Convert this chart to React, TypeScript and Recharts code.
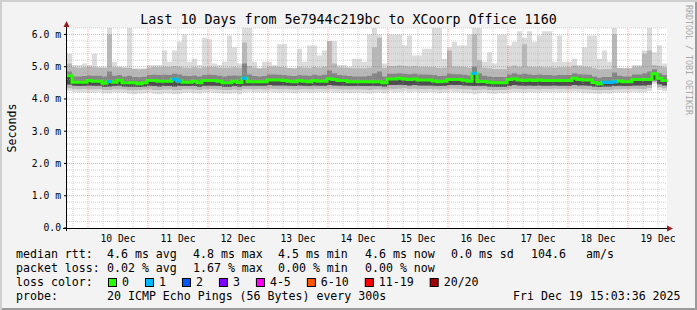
import {
  ComposedChart,
  Area,
  Line,
  XAxis,
  YAxis,
  ReferenceLine,
  CartesianGrid,
} from "recharts";

const W = 697;
const H = 310;
const MONO = '"DejaVu Sans Mono", monospace';

// samples: hours after Dec 9 00:00, one consolidated sample every 2 h
const START_HOUR = 15.6;
const STEP_HOURS = 2;
const END_HOUR = 255.6;

// median rtt (ms)
const median = [
  4.72, 4.52, 4.52, 4.52, 4.57, 4.55, 4.55, 4.49, 4.54, 4.52,
  4.58, 4.5, 4.5, 4.5, 4.47, 4.5, 4.57, 4.57, 4.55, 4.55,
  4.55, 4.61, 4.56, 4.52, 4.52, 4.55, 4.5, 4.57, 4.57, 4.57,
  4.55, 4.5, 4.5, 4.55, 4.51, 4.64, 4.53, 4.53, 4.53, 4.53,
  4.59, 4.59, 4.59, 4.57, 4.55, 4.53, 4.57, 4.55, 4.53, 4.57,
  4.55, 4.55, 4.63, 4.6, 4.57, 4.57, 4.53, 4.53, 4.53, 4.53,
  4.53, 4.53, 4.53, 4.5, 4.62, 4.62, 4.64, 4.62, 4.6, 4.62,
  4.59, 4.59, 4.59, 4.56, 4.53, 4.55, 4.6, 4.6, 4.6, 4.58,
  4.55, 4.8, 4.54, 4.54, 4.52, 4.5, 4.5, 4.5, 4.6, 4.63,
  4.59, 4.57, 4.59, 4.57, 4.59, 4.57, 4.57, 4.57, 4.57, 4.57,
  4.57, 4.64, 4.6, 4.59, 4.59, 4.51, 4.47, 4.52, 4.51, 4.53,
  4.56, 4.53, 4.53, 4.6, 4.6, 4.6, 4.6, 4.78, 4.64, 4.57,
];

// samples where 1 of 20 pings was lost
const lossOne = [8, 21, 22, 35, 81, 107, 108, 109];

// smoke: sorted ping rtts, lowest .. highest (ms)
const smokeMin = [
  4.25, 4.22, 4.2, 4.21, 4.19, 4.2, 4.22, 4.18, 4.17, 4.2,
  4.2, 4.19, 4.16, 4.15, 4.17, 4.18, 4.2, 4.16, 4.15, 4.18,
  4.17, 4.15, 4.16, 4.19, 4.2, 4.18, 4.17, 4.2, 4.21, 4.19,
  4.18, 4.17, 4.16, 4.18, 4.15, 4.2, 4.22, 4.2, 4.21, 4.2,
  4.22, 4.2, 4.19, 4.21, 4.2, 4.18, 4.2, 4.21, 4.19, 4.2,
  4.21, 4.2, 4.22, 4.2, 4.19, 4.2, 4.18, 4.19, 4.2, 4.18,
  4.17, 4.19, 4.2, 4.18, 4.22, 4.2, 4.21, 4.23, 4.2, 4.22,
  4.2, 4.19, 4.21, 4.2, 4.18, 4.2, 4.22, 4.21, 4.2, 4.19,
  4.18, 4.15, 4.18, 4.2, 4.17, 4.16, 4.18, 4.17, 4.2, 4.21,
  4.2, 4.19, 4.21, 4.2, 4.19, 4.21, 4.2, 4.22, 4.2, 4.21,
  4.2, 4.22, 4.2, 4.19, 4.18, 4.17, 4.16, 4.18, 4.17, 4.2,
  4.19, 4.2, 4.21, 4.22, 4.2, 4.21, 4.25, 4.47, 4.28, 4.24,
];
const smokeQ1 = [
  4.33, 4.31, 4.3, 4.31, 4.3, 4.3, 4.31, 4.28, 4.28, 4.3,
  4.3, 4.29, 4.27, 4.27, 4.28, 4.29, 4.3, 4.28, 4.28, 4.29,
  4.29, 4.27, 4.28, 4.3, 4.3, 4.29, 4.28, 4.3, 4.31, 4.3,
  4.29, 4.28, 4.28, 4.29, 4.27, 4.31, 4.31, 4.3, 4.31, 4.3,
  4.32, 4.31, 4.3, 4.31, 4.3, 4.29, 4.3, 4.31, 4.3, 4.31,
  4.31, 4.3, 4.32, 4.31, 4.3, 4.3, 4.29, 4.3, 4.3, 4.29,
  4.28, 4.3, 4.3, 4.29, 4.32, 4.31, 4.32, 4.33, 4.31, 4.32,
  4.31, 4.3, 4.31, 4.3, 4.29, 4.3, 4.32, 4.32, 4.31, 4.3,
  4.3, 4.28, 4.29, 4.3, 4.28, 4.27, 4.28, 4.28, 4.3, 4.32,
  4.31, 4.3, 4.31, 4.31, 4.3, 4.31, 4.31, 4.32, 4.31, 4.31,
  4.31, 4.32, 4.31, 4.3, 4.29, 4.28, 4.27, 4.28, 4.28, 4.3,
  4.3, 4.31, 4.31, 4.32, 4.31, 4.31, 4.34, 4.52, 4.36, 4.33,
];
const smokeQ2 = [
  4.45, 4.41, 4.4, 4.41, 4.42, 4.41, 4.41, 4.38, 4.39, 4.4,
  4.41, 4.39, 4.38, 4.38, 4.37, 4.39, 4.41, 4.4, 4.39, 4.4,
  4.4, 4.39, 4.4, 4.4, 4.4, 4.4, 4.38, 4.41, 4.41, 4.41,
  4.4, 4.38, 4.38, 4.4, 4.38, 4.41, 4.41, 4.41, 4.41, 4.41,
  4.43, 4.42, 4.42, 4.42, 4.41, 4.4, 4.42, 4.41, 4.4, 4.42,
  4.41, 4.41, 4.43, 4.42, 4.41, 4.41, 4.4, 4.4, 4.4, 4.4,
  4.4, 4.4, 4.4, 4.39, 4.43, 4.43, 4.44, 4.43, 4.42, 4.43,
  4.42, 4.42, 4.42, 4.41, 4.4, 4.41, 4.43, 4.43, 4.43, 4.42,
  4.41, 4.4, 4.4, 4.41, 4.39, 4.38, 4.38, 4.38, 4.41, 4.43,
  4.42, 4.41, 4.42, 4.41, 4.42, 4.41, 4.41, 4.42, 4.41, 4.41,
  4.41, 4.43, 4.42, 4.42, 4.41, 4.39, 4.37, 4.39, 4.39, 4.4,
  4.41, 4.4, 4.4, 4.42, 4.42, 4.42, 4.44, 4.58, 4.46, 4.42,
];
const smokeQ3 = [
  4.85, 4.7, 4.7, 4.71, 4.73, 4.72, 4.72, 4.7, 4.85, 4.72,
  4.74, 4.7, 4.72, 4.68, 4.67, 4.69, 4.74, 4.75, 4.74, 4.75,
  4.74, 4.78, 4.76, 4.72, 4.71, 4.73, 4.7, 4.74, 4.75, 4.74,
  4.72, 4.7, 4.72, 4.73, 4.72, 5.1, 4.76, 4.71, 4.7, 4.71,
  4.76, 4.76, 4.75, 4.74, 4.72, 4.71, 4.74, 4.73, 4.72, 4.75,
  4.73, 4.75, 4.88, 4.8, 4.74, 4.73, 4.71, 4.7, 4.7, 4.7,
  4.72, 4.8, 4.85, 4.7, 4.78, 4.78, 4.8, 4.78, 4.77, 4.78,
  4.76, 4.76, 4.75, 4.74, 4.71, 4.72, 4.78, 4.77, 4.77, 4.75,
  4.73, 5.0, 4.8, 4.72, 4.7, 4.68, 4.68, 4.68, 4.76, 4.8,
  4.76, 4.78, 4.76, 4.74, 4.76, 4.74, 4.74, 4.73, 4.74, 4.74,
  4.74, 4.8, 4.77, 4.76, 4.75, 4.7, 4.66, 4.68, 4.68, 4.82,
  4.72, 4.7, 4.7, 4.76, 4.76, 4.8, 4.85, 4.92, 4.8, 4.74,
];
const smokeQ4 = [
  5.1, 4.98, 4.97, 4.98, 5.0, 4.98, 4.97, 4.96, 6.0, 4.98,
  4.98, 4.96, 4.96, 4.93, 4.92, 4.93, 4.97, 4.99, 4.98, 5.0,
  4.99, 5.02, 5.0, 4.97, 4.96, 4.98, 4.95, 4.98, 5.0, 4.99,
  4.97, 4.96, 4.97, 4.98, 4.96, 5.75, 5.02, 4.97, 4.95, 4.96,
  5.0, 5.0, 4.99, 4.98, 4.96, 4.95, 4.98, 4.97, 4.96, 4.99,
  4.97, 5.0, 5.8, 5.1, 4.98, 4.97, 4.96, 4.95, 4.95, 4.95,
  4.97, 5.6, 5.9, 4.96, 5.02, 5.02, 5.04, 5.02, 5.01, 5.02,
  5.0, 5.0, 4.99, 4.98, 4.96, 4.97, 5.5, 5.01, 5.01, 4.99,
  4.97, 6.0, 5.2, 4.97, 4.95, 4.93, 4.93, 4.93, 5.0, 5.04,
  5.0, 5.7, 5.0, 4.99, 5.0, 4.98, 4.98, 4.97, 4.98, 4.98,
  4.98, 5.04, 5.01, 5.0, 4.99, 4.95, 4.92, 4.93, 4.93, 6.0,
  4.96, 4.95, 4.95, 5.0, 5.0, 5.4, 5.5, 5.05, 5.02, 4.98,
];
const smokeMax = [
  5.4, 5.05, 5.05, 5.1, 5.05, 5.4, 5.0, 5.0, 6.2, 5.15,
  5.0, 5.0, 6.2, 4.95, 4.95, 4.95, 5.05, 5.05, 5.05, 5.5,
  5.15, 5.5, 5.77, 6.0, 5.15, 5.25, 5.05, 5.9, 5.85, 5.1,
  5.05, 5.15, 5.97, 5.6, 5.1, 6.2, 6.2, 5.15, 4.95, 5.15,
  5.15, 5.05, 5.7, 5.7, 4.95, 4.95, 5.56, 5.15, 5.66, 5.66,
  5.35, 5.5, 5.8, 5.8, 5.05, 5.05, 5.0, 5.25, 5.25, 5.15,
  6.0, 6.2, 6.0, 5.1, 6.0, 6.0, 6.0, 5.66, 5.97, 5.35,
  5.35, 5.56, 5.56, 6.2, 6.2, 5.25, 5.6, 5.77, 5.66, 5.66,
  6.0, 6.2, 6.2, 5.15, 5.45, 5.1, 6.0, 6.0, 5.66, 5.77,
  6.1, 5.9, 6.1, 5.77, 5.97, 6.1, 6.1, 5.15, 5.97, 5.15,
  5.15, 5.25, 5.05, 5.6, 5.97, 5.97, 5.25, 5.5, 5.15, 6.2,
  4.95, 4.95, 4.95, 5.05, 5.05, 5.5, 6.2, 5.45, 5.66, 5.1,
];

// axes
const yTicks = [0, 1, 2, 3, 4, 5, 6];
const yMinor = [
  0.2, 0.4, 0.6, 0.8, 1.2, 1.4, 1.6, 1.8, 2.2, 2.4, 2.6, 2.8, 3.2, 3.4,
  3.6, 3.8, 4.2, 4.4, 4.6, 4.8, 5.2, 5.4, 5.6, 5.8, 6.2,
];
const dayTicks = [36, 60, 84, 108, 132, 156, 180, 204, 228, 252];
const dayLabels = [
  "10 Dec", "11 Dec", "12 Dec", "13 Dec", "14 Dec",
  "15 Dec", "16 Dec", "17 Dec", "18 Dec", "19 Dec",
];
const midnights = [24, 48, 72, 96, 120, 144, 168, 192, 216, 240];
const sixHours = [
  18, 30, 36, 42, 54, 60, 66, 78, 84, 90, 102, 108, 114, 126, 132, 138,
  150, 156, 162, 174, 180, 186, 198, 204, 210, 222, 228, 234, 246, 252,
];

// legend
const rttStats = [
  ["median rtt:", 16], ["4.6 ms avg", 107], ["4.8 ms max", 193], ["4.5 ms min", 278],
  ["4.6 ms now", 365], ["0.0 ms sd", 451], ["104.6", 531], ["am/s", 586],
] as const;
const lossStats = [
  ["packet loss:", 16], ["0.02 % avg", 107], ["1.67 % max", 193],
  ["0.00 % min", 278], ["0.00 % now", 365],
] as const;
const lossLabels = ["0", "1", "2", "3", "4-5", "6-10", "11-19", "20/20"];
const lossColors = [
  "#26ff00", "#00b8ff", "#0059ff", "#7e00ff",
  "#ff00ff", "#ff5500", "#ff0000", "#a10000",
];

const rows = median.map((m, i) => ({
  t: START_HOUR + i * STEP_HOURS,
  outer: [smokeMin[i], smokeMax[i]],
  mid: [smokeQ1[i], smokeQ4[i]],
  inner: [smokeQ2[i], smokeQ3[i]],
  core: [smokeQ2[i], m],
  med: m,
  loss1: lossOne.includes(i) ? m : lossOne.includes(i - 1) ? median[i - 1] : null,
}));
// closing sample so the last step reaches the right edge
const lastRow = rows[rows.length - 1];
rows.push({
  ...lastRow,
  t: END_HOUR,
  loss1: lossOne.includes(median.length - 1) ? lastRow.med : null,
});

const CHAR_W = 6.98;

function LossLegend() {
  let x = 108;
  return (
    <g>
      {lossLabels.map((label, i) => {
        const sx = x;
        x = sx + 14 + label.length * CHAR_W + 16;
        return (
          <g key={label}>
            <rect x={sx + 0.5} y={278.5} width={8} height={8} fill={lossColors[i]} stroke="#000" />
            <text x={sx + 14} y={286} fontSize={11.6} fontFamily={MONO} fill="#000">
              {label}
            </text>
          </g>
        );
      })}
    </g>
  );
}

export default function App() {
  const gridMinor = { stroke: "#a8a8a8", strokeOpacity: 0.5, strokeDasharray: "1 1" };
  const gridMajor = { stroke: "#ff3030", strokeOpacity: 0.45, strokeDasharray: "1 1" };

  return (
    <div
      style={{
        position: "relative",
        width: W,
        height: H,
        background: "#f3f3f3",
        boxShadow: "inset 2px 2px 0 #cfcfcf, inset -2px -2px 0 #9a9a9a",
        fontFamily: MONO,
      }}
    >
      <style>{"body{margin:0}"}</style>
      <div style={{ position: "absolute", left: 0, top: 0 }}>
        <ComposedChart
          width={W}
          height={H}
          data={rows}
          margin={{ top: 28, right: 30, bottom: 52, left: 0 }}
        >
          <CartesianGrid horizontal={false} vertical={false} fill="#ffffff" />
          <XAxis
            type="number"
            dataKey="t"
            domain={[START_HOUR, END_HOUR]}
            allowDataOverflow
            ticks={dayTicks}
            tickFormatter={(v: number) => dayLabels[dayTicks.indexOf(v)] ?? ""}
            tick={{ fontSize: 9.7, fontFamily: MONO, fill: "#000" }}
            tickLine={false}
            axisLine={false}
            tickSize={0}
            tickMargin={7}
            height={30}
            interval={0}
          />
          <YAxis
            domain={[0, 6.2]}
            allowDataOverflow
            ticks={yTicks}
            tickFormatter={(v: number) => (v === 0 ? "0.0" : `${v.toFixed(1)} m`)}
            tick={{ fontSize: 9.7, fontFamily: MONO, fill: "#000" }}
            tickLine={{ stroke: "#000" }}
            tickSize={3}
            tickMargin={3}
            axisLine={false}
            width={67}
            interval={0}
          />

          <Area type="stepAfter" dataKey="outer" stroke="none" fill="#dcdcdc" fillOpacity={1} isAnimationActive={false} dot={false} activeDot={false} />
          <Area type="stepAfter" dataKey="mid" stroke="none" fill="#b8b8b8" fillOpacity={1} isAnimationActive={false} dot={false} activeDot={false} />
          <Area type="stepAfter" dataKey="inner" stroke="none" fill="#858585" fillOpacity={1} isAnimationActive={false} dot={false} activeDot={false} />
          <Area type="stepAfter" dataKey="core" stroke="none" fill="#4e4e4e" fillOpacity={1} isAnimationActive={false} dot={false} activeDot={false} />

          {yMinor.map((v) => (
            <ReferenceLine key={`ym${v}`} y={v} {...gridMinor} />
          ))}
          {sixHours.map((v) => (
            <ReferenceLine key={`xm${v}`} x={v} {...gridMinor} />
          ))}
          {yTicks.slice(1).map((v) => (
            <ReferenceLine key={`yM${v}`} y={v} {...gridMajor} />
          ))}
          {midnights.map((v) => (
            <ReferenceLine key={`xM${v}`} x={v} {...gridMajor} />
          ))}

          <Line type="stepAfter" dataKey="med" stroke="#26ff00" strokeWidth={3} dot={false} activeDot={false} isAnimationActive={false} />
          <Line type="stepAfter" dataKey="loss1" stroke="#00b8ff" strokeWidth={3} dot={false} activeDot={false} connectNulls={false} isAnimationActive={false} />
        </ComposedChart>
      </div>

      <svg
        width={W}
        height={H}
        style={{ position: "absolute", left: 0, top: 0, pointerEvents: "none" }}
      >
        {/* axes with arrows */}
        <line x1={63} y1={228.5} x2={670} y2={228.5} stroke="#000" />
        <polygon points="673,228.5 667,225.5 667,231.5" fill="#9b1c1c" />
        <line x1={66.5} y1={231} x2={66.5} y2={24} stroke="#000" />
        <polygon points="66.5,21 63.5,27 69.5,27" fill="#9b1c1c" />

        <text x={348.5} y={24} textAnchor="middle" fontSize={13.3} fontFamily={MONO} fill="#000">
          Last 10 Days from 5e7944c219bc to XCoorp Office 1160
        </text>
        <text
          x={15.5}
          y={128}
          transform="rotate(-90 15.5 128)"
          textAnchor="middle"
          fontSize={11.6}
          fontFamily={MONO}
          fill="#000"
        >
          Seconds
        </text>
        <text
          x={5}
          y={-686}
          transform="rotate(90)"
          fontSize={8.3}
          fontFamily={MONO}
          fill="#a8a8a8"
        >
          RRDTOOL / TOBI OETIKER
        </text>

        {rttStats.map(([s, x]) => (
          <text key={s} x={x} y={258} fontSize={11.6} fontFamily={MONO} fill="#000">
            {s}
          </text>
        ))}
        {lossStats.map(([s, x]) => (
          <text key={s} x={x} y={272} fontSize={11.6} fontFamily={MONO} fill="#000">
            {s}
          </text>
        ))}
        <text x={16} y={286} fontSize={11.6} fontFamily={MONO} fill="#000">
          loss color:
        </text>
        <LossLegend />
        <text x={16} y={300} fontSize={11.6} fontFamily={MONO} fill="#000">
          probe:
        </text>
        <text x={107} y={300} fontSize={11.6} fontFamily={MONO} fill="#000">
          20 ICMP Echo Pings (56 Bytes) every 300s
        </text>
        <text x={513} y={300} fontSize={11.6} fontFamily={MONO} fill="#000">
          Fri Dec 19 15:03:36 2025
        </text>
      </svg>
    </div>
  );
}
